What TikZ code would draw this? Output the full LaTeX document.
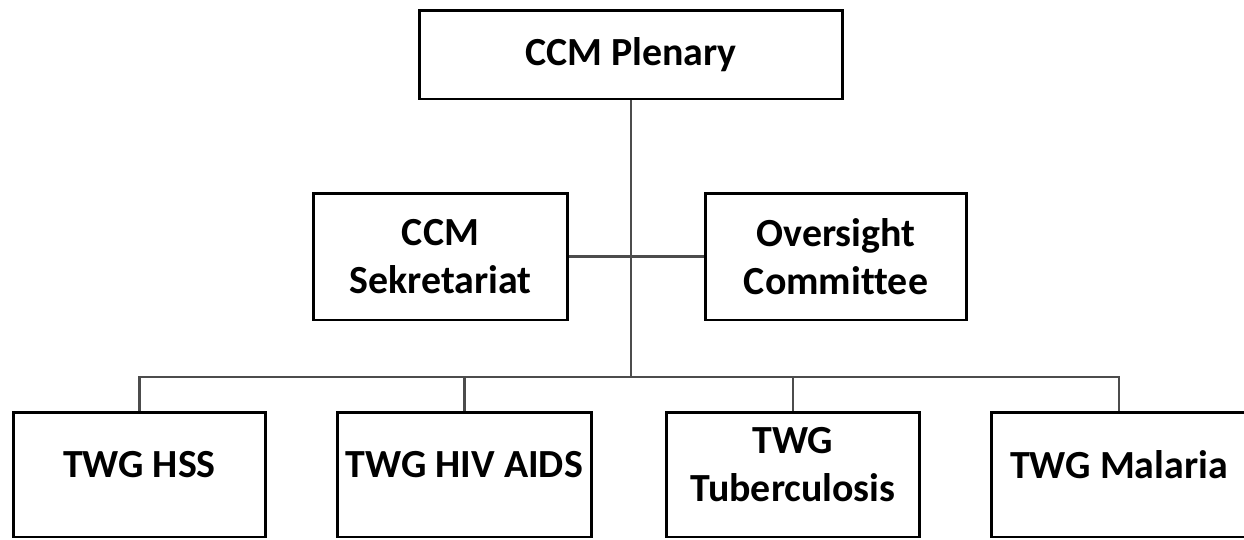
\documentclass[tikz,border=0pt]{standalone}
\usepackage{fontspec}
\setmainfont{Carlito}[Ligatures=CommonOff]
\usepackage{tikz}

\begin{document}
\begin{tikzpicture}[x=0.02cm, y=-0.02cm,
	every node/.style={font=\fontsize{22.7}{27}\selectfont\bfseries, align=center, inner sep=0pt},
	box/.style={draw=black, line width=1.7pt, minimum height=2.54cm},
	twg/.style={box, minimum height=2.5cm, text depth=0.4cm},
	link/.style={draw=black!70, line width=1.3pt}]
	\useasboundingbox (0,0) rectangle (1244,539);

	%%%% plenary
	\node[box, minimum width=8.48cm, minimum height=1.78cm] (plenary) at (631,54.5) {CCM Plenary};

	%%%% secretariat and oversight
	\node[box, minimum width=5.10cm] (sekret) at (440.5,256.5) {CCM\\Sekretariat};
	\node[box, minimum width=5.24cm] (oversight) at (836,256.5) {Oversight\\Committee};

	%%%% technical working groups
	\node[twg, minimum width=5.06cm] (hss) at (139.5,474.5) {TWG HSS};
	\node[twg, minimum width=5.10cm] (hiv) at (464.5,474.5) {TWG HIV AIDS};
	\node[twg, minimum width=5.08cm] (tb) at (793,474.5) {TWG\\Tuberculosis};
	\node[twg, minimum width=5.12cm] (malaria) at (1119,474.5) {TWG Malaria};
	%%%%%%

	\coordinate (bus) at (631,377);

	\draw[link, line width=1.5pt] (plenary) -- (bus);
	\draw[link] (sekret) -- (oversight);
	\draw[link] (hss.north) |- (bus) -| (malaria.north);
	\draw[link] (hiv.north) -- (hiv.north |- bus);
	\draw[link] (tb.north) -- (tb.north |- bus);
\end{tikzpicture}
\end{document}
